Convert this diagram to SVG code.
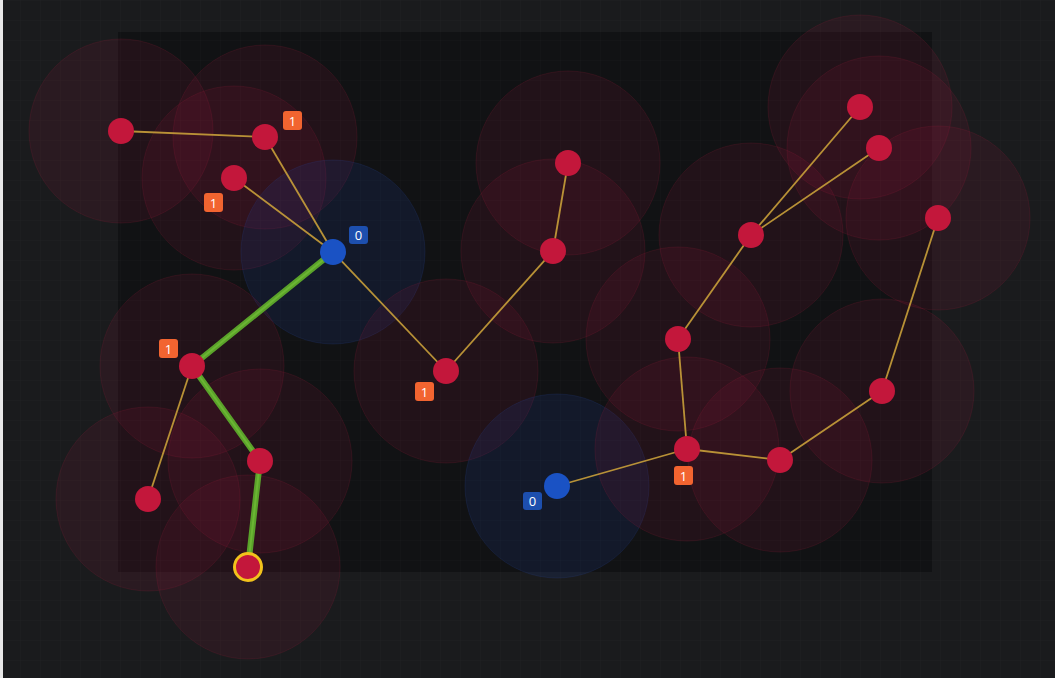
<svg xmlns="http://www.w3.org/2000/svg" width="1055" height="678" viewBox="0 0 1055 678">
<defs>
<pattern id="grid" width="20" height="20" patternUnits="userSpaceOnUse">
<path d="M20 0H0V20" fill="none" stroke="#ffffff" stroke-opacity="0.022" stroke-width="1"/>
</pattern>
</defs>
<style>
.rr{fill:#9a1a3a;fill-opacity:0.13;stroke:#a8223f;stroke-opacity:0.16;stroke-width:1}
.rb{fill:#1e3f9a;fill-opacity:0.17;stroke:#2a4aa0;stroke-opacity:0.18;stroke-width:1}
.e{stroke:#c9a03a;stroke-width:1.8;stroke-opacity:0.9;fill:none}
.p{stroke:#5aa22a;stroke-width:6;stroke-linecap:round;fill:none}
.pi{stroke:#76c23a;stroke-width:2;stroke-linecap:round;fill:none;stroke-opacity:0.6}
.nr{fill:#c3173b}
.nb{fill:#1a52c4}
.bo{fill:#f26430}
.bb{fill:#1d4fae}
.t{font-family:"Open Sans","DejaVu Sans",sans-serif;font-size:13px;fill:#ffffff;text-anchor:middle}
</style>
<rect width="1055" height="678" fill="#1a1b1d"/>
<rect x="118" y="32" width="814" height="540" fill="#111214"/>
<rect width="1055" height="678" fill="url(#grid)"/>
<rect x="0" y="0" width="3" height="678" fill="#e8e8e8"/>
<g id="ranges">
<circle class="rr" cx="121" cy="131" r="92"/>
<circle class="rr" cx="265" cy="137" r="92"/>
<circle class="rr" cx="234" cy="178" r="92"/>
<circle class="rb" cx="333" cy="252" r="92"/>
<circle class="rr" cx="192" cy="366" r="92"/>
<circle class="rr" cx="260" cy="461" r="92"/>
<circle class="rr" cx="148" cy="499" r="92"/>
<circle class="rr" cx="248" cy="567" r="92"/>
<circle class="rr" cx="446" cy="371" r="92"/>
<circle class="rr" cx="553" cy="251" r="92"/>
<circle class="rr" cx="568" cy="163" r="92"/>
<circle class="rb" cx="557" cy="486" r="92"/>
<circle class="rr" cx="687" cy="449" r="92"/>
<circle class="rr" cx="678" cy="339" r="92"/>
<circle class="rr" cx="751" cy="235" r="92"/>
<circle class="rr" cx="860" cy="107" r="92"/>
<circle class="rr" cx="879" cy="148" r="92"/>
<circle class="rr" cx="938" cy="218" r="92"/>
<circle class="rr" cx="882" cy="391" r="92"/>
<circle class="rr" cx="780" cy="460" r="92"/>
</g>
<g id="connectors">
<line class="e" x1="121" y1="131" x2="265" y2="137"/>
<line class="e" x1="265" y1="137" x2="333" y2="252"/>
<line class="e" x1="234" y1="178" x2="333" y2="252"/>
<line class="e" x1="333" y1="252" x2="446" y2="371"/>
<line class="e" x1="446" y1="371" x2="553" y2="251"/>
<line class="e" x1="553" y1="251" x2="568" y2="163"/>
<line class="e" x1="192" y1="366" x2="148" y2="499"/>
<line class="e" x1="557" y1="486" x2="687" y2="449"/>
<line class="e" x1="687" y1="449" x2="678" y2="339"/>
<line class="e" x1="678" y1="339" x2="751" y2="235"/>
<line class="e" x1="751" y1="235" x2="860" y2="107"/>
<line class="e" x1="751" y1="235" x2="879" y2="148"/>
<line class="e" x1="687" y1="449" x2="780" y2="460"/>
<line class="e" x1="780" y1="460" x2="882" y2="391"/>
<line class="e" x1="882" y1="391" x2="938" y2="218"/>
<polyline class="p" points="333,252 192,366 260,461 248,567"/>
<polyline class="pi" points="333,252 192,366 260,461 248,567"/>
</g>
<g id="n1"><circle class="nr" cx="121" cy="131" r="13"/></g>
<g id="n2"><circle class="nr" cx="265" cy="137" r="13"/><rect class="bo" x="283" y="111" width="19" height="19" rx="3"/><text class="t" x="292.5" y="125.5">1</text></g>
<g id="n3"><circle class="nr" cx="234" cy="178" r="13"/><rect class="bo" x="204" y="193" width="19" height="19" rx="3"/><text class="t" x="213.5" y="207.5">1</text></g>
<g id="n4"><circle class="nb" cx="333" cy="252" r="13"/><rect class="bb" x="349" y="226" width="19" height="18" rx="3"/><text class="t" x="358.5" y="240">0</text></g>
<g id="n5"><circle class="nr" cx="192" cy="366" r="13"/><rect class="bo" x="159" y="339" width="19" height="19" rx="3"/><text class="t" x="168.5" y="353.5">1</text></g>
<g id="n6"><circle class="nr" cx="260" cy="461" r="13"/></g>
<g id="n7"><circle class="nr" cx="148" cy="499" r="13"/></g>
<g id="n8"><circle class="nr" cx="248" cy="567" r="13.5" stroke="#f2c21c" stroke-width="3"/></g>
<g id="n9"><circle class="nr" cx="446" cy="371" r="13"/><rect class="bo" x="415" y="382" width="19" height="19" rx="3"/><text class="t" x="424.5" y="396.5">1</text></g>
<g id="n10"><circle class="nr" cx="553" cy="251" r="13"/></g>
<g id="n11"><circle class="nr" cx="568" cy="163" r="13"/></g>
<g id="n12"><circle class="nb" cx="557" cy="486" r="13"/><rect class="bb" x="523" y="492" width="19" height="18" rx="3"/><text class="t" x="532.5" y="506">0</text></g>
<g id="n13"><circle class="nr" cx="687" cy="449" r="13"/><rect class="bo" x="674" y="466" width="19" height="19" rx="3"/><text class="t" x="683.5" y="480.5">1</text></g>
<g id="n14"><circle class="nr" cx="678" cy="339" r="13"/></g>
<g id="n15"><circle class="nr" cx="751" cy="235" r="13"/></g>
<g id="n16"><circle class="nr" cx="860" cy="107" r="13"/></g>
<g id="n17"><circle class="nr" cx="879" cy="148" r="13"/></g>
<g id="n18"><circle class="nr" cx="938" cy="218" r="13"/></g>
<g id="n19"><circle class="nr" cx="882" cy="391" r="13"/></g>
<g id="n20"><circle class="nr" cx="780" cy="460" r="13"/></g>
</svg>
